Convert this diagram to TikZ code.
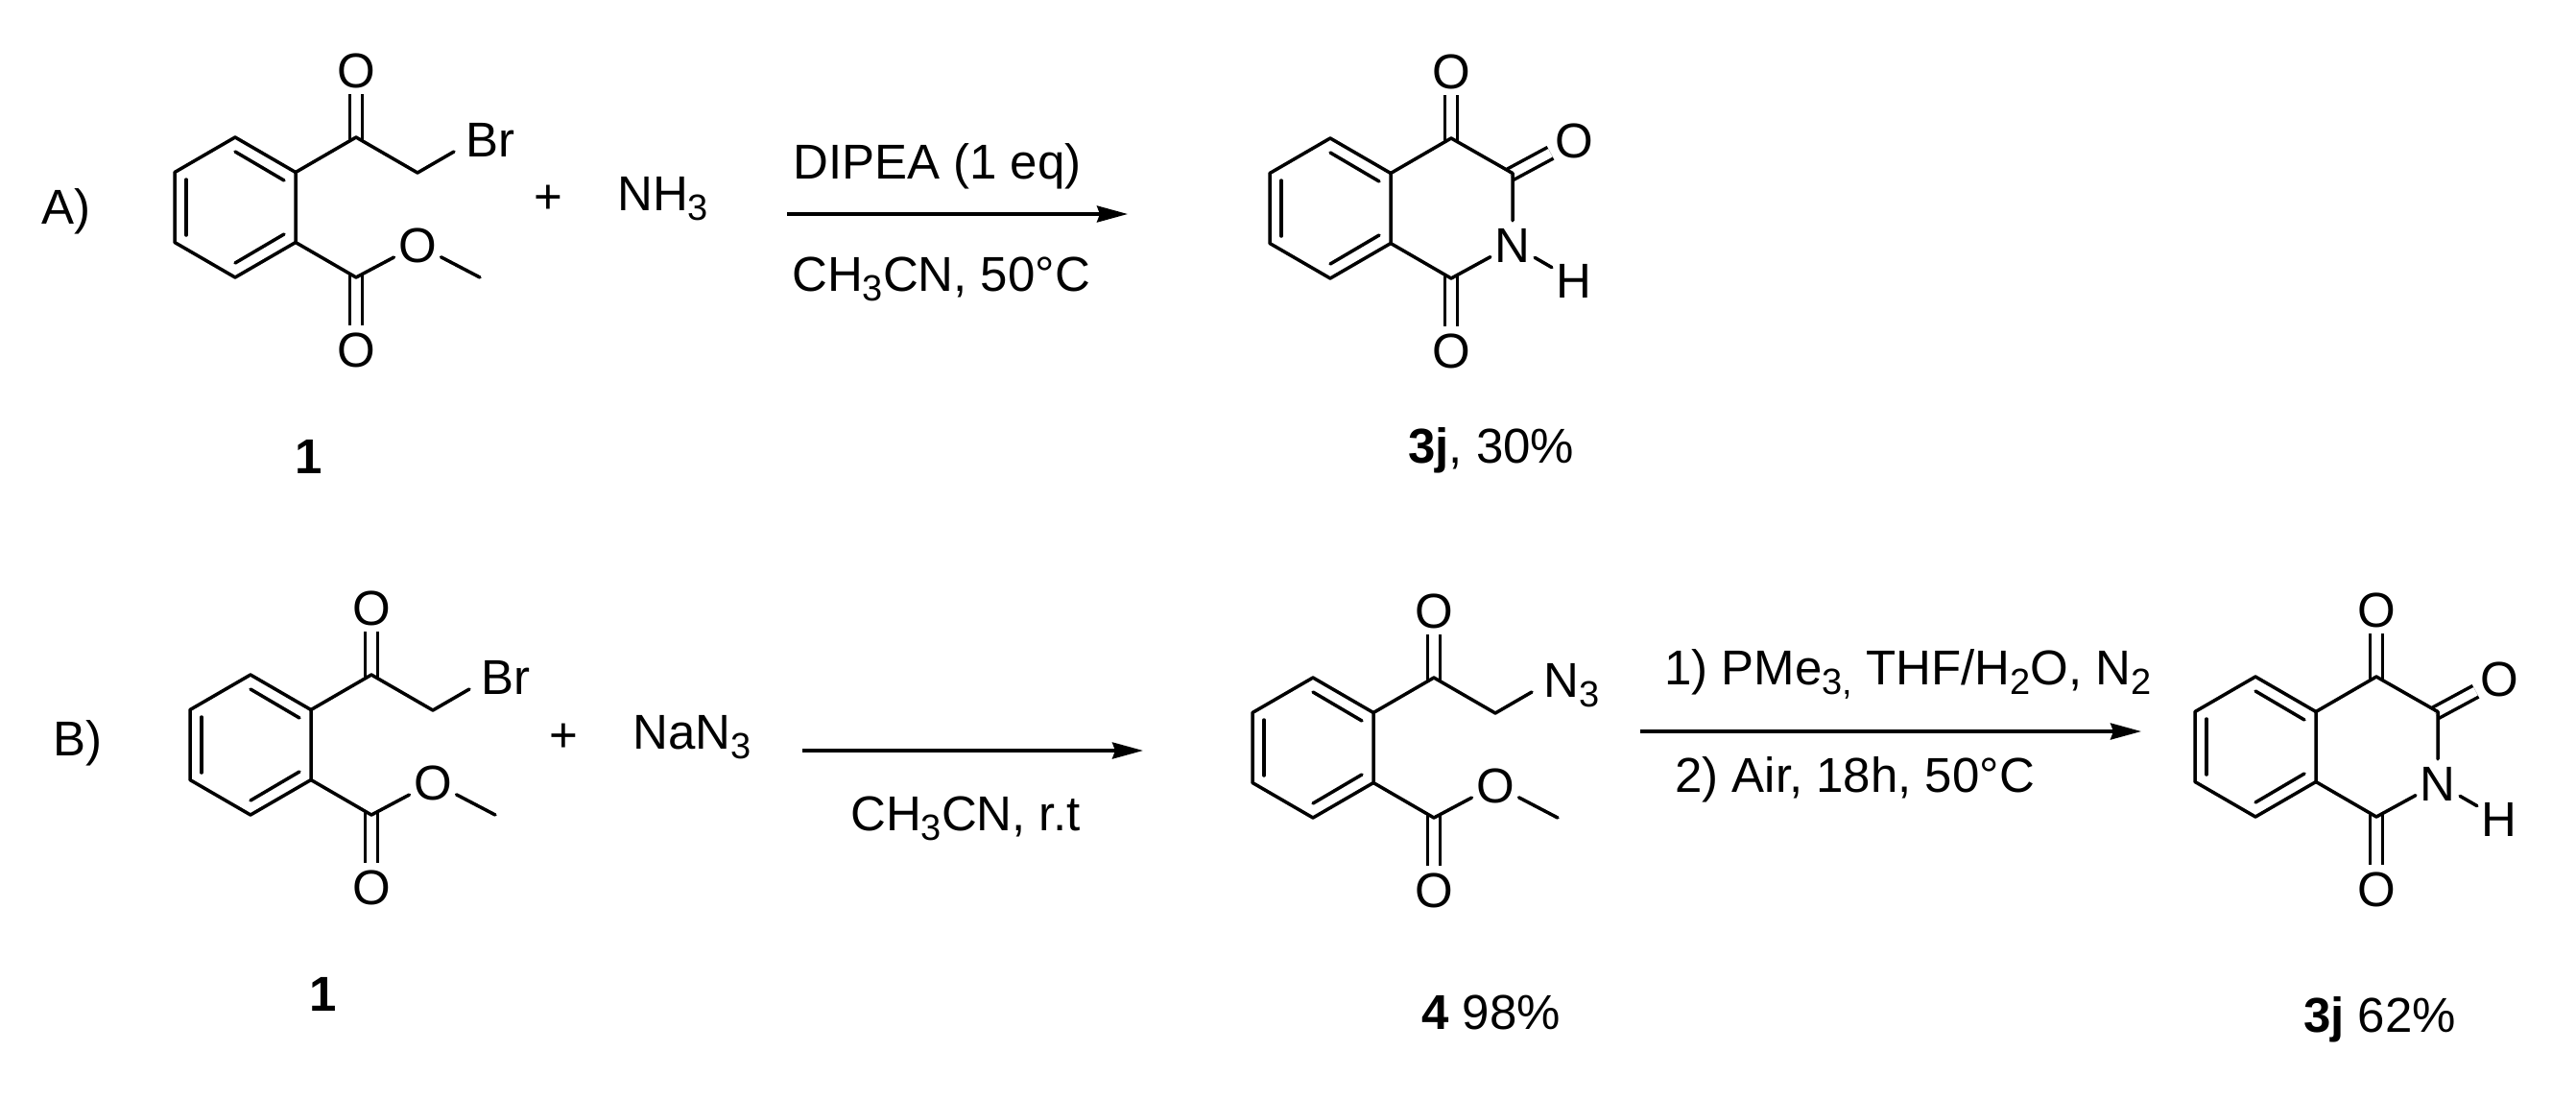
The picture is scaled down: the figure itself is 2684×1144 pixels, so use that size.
\documentclass[tikz,border=0pt]{standalone}
\usepackage{fontspec}
\setmainfont{Liberation Sans}
\usetikzlibrary{arrows.meta}
\newcommand\chemfont{\fontsize{51}{56}\selectfont}
\newcommand\subs[1]{\raisebox{-10pt}{\fontsize{38}{42}\selectfont #1}}
\tikzset{
  bond/.style={line width=3.5pt,line cap=round,line join=round},
  dbl/.style={line width=3.5pt,line cap=butt,double,double distance=9.5pt,shorten <=-3pt},
  atom/.style={font=\chemfont,inner xsep=4.5pt,inner ysep=7pt,text height=36pt,text depth=0pt},
  lbl/.style={font=\chemfont,anchor=base west,inner sep=0pt},
  rxn/.style={line width=3.5pt,-{Stealth[length=32pt,width=17pt,inset=3pt]}}
}
% fused benzene ring, centred on the scope origin; bonds drawn after the C=O double bonds
\newcommand\benzo[1]{%
  \coordinate (#1r1) at (0,-73);
  \coordinate (#1r2) at (63,-36.5);
  \coordinate (#1r3) at (63,36.5);
  \coordinate (#1r4) at (0,73);
  \coordinate (#1r5) at (-63,36.5);
  \coordinate (#1r6) at (-63,-36.5);
  \coordinate (#1ia) at (0,-58);
  \coordinate (#1ib) at (51,-28);
  \coordinate (#1ic) at (51,28);
  \coordinate (#1id) at (0,58);
  \coordinate (#1ie) at (-51,29);
  \coordinate (#1if) at (-51,-29);
  \draw[bond] (#1r1) -- (#1r2) -- (#1r3) -- (#1r4) -- (#1r5) -- (#1r6) -- cycle;
  \draw[bond] (#1ia) -- (#1ib);
  \draw[bond] (#1ic) -- (#1id);
  \draw[bond] (#1ie) -- (#1if);
}
% 2-(2-X-acetyl)benzoate methyl ester; #2 = the X group
\newcommand\ketoester[2]{%
  \coordinate (#1ck) at (126,-73);
  \coordinate (#1ch) at (190,-36);
  \coordinate (#1ce) at (126,73);
  \coordinate (#1me) at (255,73);
  \coordinate (#1xb) at (228,-58);
  \node[atom] (#1ok) at (126,-143) {O};
  \node[atom] (#1oe) at (126,148) {O};
  \node[atom] (#1os) at (190,39) {O};
  \node[lbl] (#1x) at (240,-53) {#2};
  \draw[dbl] (#1ck) -- (#1ok);
  \draw[dbl] (#1ce) -- (#1oe);
  \benzo{#1}
  \draw[bond] (#1r2) -- (#1ck) -- (#1ch) -- (#1xb);
  \draw[bond] (#1r3) -- (#1ce) -- (#1os) -- (#1me);
}
% isoquinoline-1,3,4-trione
\newcommand\trione[1]{%
  \coordinate (#1c4) at (126,-73);
  \coordinate (#1c3) at (190,-36.5);
  \coordinate (#1c1) at (126,73);
  \node[atom] (#1o4) at (126,-143) {O};
  \node[atom] (#1o3) at (254,-71) {O};
  \node[atom] (#1o1) at (126,148) {O};
  \node[atom] (#1n) at (190,38) {N};
  \node[atom] (#1h) at (254,75) {H};
  \draw[dbl] (#1c4) -- (#1o4);
  \draw[dbl] (#1c3) -- (#1o3);
  \draw[dbl] (#1c1) -- (#1o1);
  \benzo{#1}
  \draw[bond] (#1r2) -- (#1c4) -- (#1c3) -- (#1n);
  \draw[bond] (#1r3) -- (#1c1) -- (#1n);
  \draw[bond] (#1n) -- (#1h);
}
\begin{document}
\begin{tikzpicture}[x=1pt,y=-1pt]
\path[use as bounding box,fill=white] (0,0) rectangle (2684,1144);

% Scheme A
\node[lbl] (labA) at (43,233) {A)};
\begin{scope}[shift={(245,216)}] \ketoester{a}{Br} \end{scope}
\node[font=\chemfont,inner sep=0pt] (plusA) at (571,208) {+};
\node[lbl] (nh3) at (643,219) {NH\subs{3}};
\node[lbl,anchor=base,font=\chemfont\bfseries] (oneA) at (322,493) {1};
\node[lbl] (condA1) at (826,186) {DIPEA (1 eq)};
\coordinate (arrAs) at (820,223);
\coordinate (arrAe) at (1175,223);
\draw[rxn] (arrAs) -- (arrAe);
\node[lbl] (condA2) at (825,303) {CH\subs{3}CN, 50°C};
\begin{scope}[shift={(1386,217)}] \trione{p} \end{scope}
\node[lbl] (yieldA) at (1467,482) {\textbf{3j}, 30\%};

% Scheme B
\node[lbl] (labB) at (55,787) {B)};
\begin{scope}[shift={(261,776)}] \ketoester{b}{Br} \end{scope}
\node[font=\chemfont,inner sep=0pt] (plusB) at (587,769) {+};
\node[lbl] (nan3) at (659,780) {NaN\subs{3}};
\node[lbl,anchor=base,font=\chemfont\bfseries] (oneB) at (337,1053) {1};
\coordinate (arrBs) at (836,782);
\coordinate (arrBe) at (1191,782);
\draw[rxn] (arrBs) -- (arrBe);
\node[lbl] (condB1) at (886,865) {CH\subs{3}CN, r.t};
\begin{scope}[shift={(1368,779)}] \ketoester{c}{N\subs{3}} \end{scope}
\node[lbl] (yieldC) at (1481,1072) {\textbf{4} 98\%};
\node[lbl] (condC1) at (1734,713) {1) PMe\subs{3,} THF/H\subs{2}O, N\subs{2}};
\coordinate (arrCs) at (1709,762);
\coordinate (arrCe) at (2231,762);
\draw[rxn] (arrCs) -- (arrCe);
\node[lbl] (condC2) at (1745,825) {2) Air, 18h, 50°C};
\begin{scope}[shift={(2350,778)}] \trione{q} \end{scope}
\node[lbl] (yieldB) at (2400,1075) {\textbf{3j} 62\%};
\end{tikzpicture}
\end{document}
